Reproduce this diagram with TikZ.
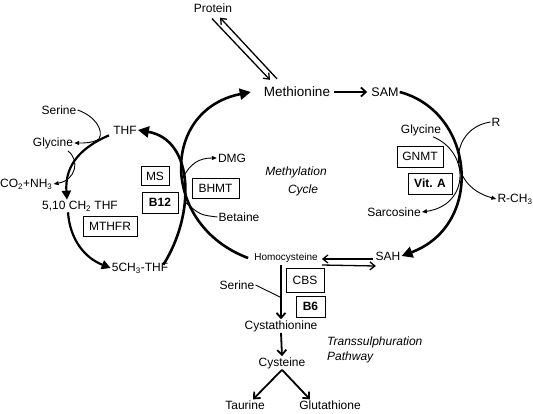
\documentclass[tikz,border=0pt]{standalone}
\usepackage{fontspec}
\setmainfont{Liberation Sans}
\usetikzlibrary{arrows.meta}
\begin{document}
\begin{tikzpicture}[x=1pt,y=-1pt,
  lbl/.style={inner sep=1pt,font=\fontsize{12}{14}\selectfont},
  smalllbl/.style={inner sep=1pt,font=\fontsize{10}{12}\selectfont},
  ital/.style={inner sep=1pt,font=\fontsize{12}{14}\selectfont\itshape},
  enz/.style={draw,line width=0.8pt,inner sep=0pt,font=\fontsize{12}{14}\selectfont},
  bigarc/.style={line width=2.6pt,-{Triangle[length=11pt,width=11pt]}},
  midarc/.style={line width=2.2pt,-{Triangle[length=9pt,width=9pt]}},
  openarr/.style={line width=1.8pt,-{Straight Barb[length=5pt,width=9pt,line width=1.8pt]}},
  thinarr/.style={line width=0.9pt,-{Triangle[length=5pt,width=4pt]}},
  thinline/.style={line width=0.9pt},
  dbl/.style={line width=1.3pt,-{Straight Barb[length=5pt,width=8pt,line width=1.3pt]}}
]
\useasboundingbox (0,0) rectangle (533,413);

% nodes
\node[lbl] (prot) at (213,8) {Protein};
\node[lbl,font=\fontsize{13.5}{15}\selectfont] (met) at (297,92) {Methionine};
\node[lbl,font=\fontsize{12.5}{14}\selectfont] (sam) at (385,92) {SAM};
\node[lbl] (sah) at (388,256) {SAH};
\node[smalllbl] (hcy) at (286,258) {Homocysteine};
\node[lbl] (cysta) at (281,326) {Cystathionine};
\node[lbl] (cys) at (282,363) {Cysteine};
\node[lbl] (tau) at (245,405) {Taurine};
\node[lbl] (glu) at (330,405) {Glutathione};
\node[lbl] (ser2) at (237,285) {Serine};
\node[ital,anchor=west] (trans) at (326,342) {Transsulphuration};
\node[ital,anchor=west] (path) at (326,357) {Pathway};
\node[ital] (methy) at (296,172) {Methylation};
\node[ital] (cycle) at (303,190) {Cycle};

\node[lbl] (thf) at (125,130) {THF};
\node[lbl] (ser1) at (59,110) {Serine};
\node[lbl] (gly1) at (53,143) {Glycine};
\node[lbl,anchor=west] (co2) at (-1,184) {CO\textsubscript{2}+NH\textsubscript{3}};
\node[lbl] (ch2) at (80,206) {5,10 CH\textsubscript{2} THF};
\node[lbl] (ch3) at (140,268) {5CH\textsubscript{3}-THF};
\node[lbl] (dmg) at (232,158) {DMG};
\node[lbl] (bet) at (239,217) {Betaine};

\node[lbl] (gly2) at (421,130) {Glycine};
\node[lbl] (r) at (496,122) {R};
\node[lbl] (sar) at (394,212) {Sarcosine};
\node[lbl] (rch3) at (515,199) {R-CH\textsubscript{3}};

% enzyme boxes
\node[enz,minimum width=28pt,minimum height=19pt] (ms) at (155,176) {MS};
\node[enz,minimum width=36pt,minimum height=21pt] (b12) at (160,202.5) {\bfseries B12};
\node[enz,minimum width=54pt,minimum height=20pt] (mthfr) at (110,226) {MTHFR};
\node[enz,minimum width=47pt,minimum height=20pt] (bhmt) at (215.5,188) {BHMT};
\node[enz,minimum width=46pt,minimum height=21pt] (gnmt) at (420,156.5) {GNMT};
\node[enz,minimum width=44pt,minimum height=21pt] (vita) at (430,183.5) {\bfseries Vit. A};
\node[enz,minimum width=38pt,minimum height=24pt] (cbs) at (305,280) {CBS};
\node[enz,minimum width=29pt,minimum height=21pt] (b6) at (310.5,306.5) {\bfseries B6};

% crossing points
\coordinate (xl) at (183,178);
\coordinate (xl2) at (184,201);
\coordinate (thfx) at (99,139);
\coordinate (glyx) at (68,151);
\coordinate (serx) at (282,298);

% Protein <-> Methionine
\draw[dbl] ([shift={(-1pt,-5pt)}]prot.south) -- ([shift={(-27pt,6pt)}]met.north);
\draw[dbl] ([shift={(-20pt,7pt)}]met.north) -- ([shift={(7pt,-4pt)}]prot.south);

% Methionine -> SAM
\draw[openarr,shorten <=3pt,shorten >=3pt] (met.east) -- (sam.west);

% big right arc SAM -> SAH
\draw[bigarc] (sam.east) .. controls (475,112) and (485,225) .. (sah.east);

% left big arc Homocysteine -> Methionine
\draw[bigarc] ([xshift=-5pt]hcy.west) .. controls (160,225) and (160,110) .. ([xshift=-12pt]met.west);

% MS arc 5CH3-THF -> THF
\draw[bigarc] ([xshift=-6pt,yshift=-3pt]ch3.north east) .. controls (195,215) and (195,140) .. (thf.east);

% THF -> 5,10 CH2 THF
\draw[midarc] ([xshift=-16pt]thf.south) .. controls (75,150) and (65,170) .. ([xshift=-13pt]ch2.north);
% 5,10 CH2 THF -> 5CH3-THF
\draw[midarc] ([xshift=-12pt]ch2.south) .. controls (70,240) and (85,258) .. (ch3.west);

% Serine -> Glycine side branch
\draw[thinline] (ser1.east) .. controls (95,116) and (104,130) .. (thfx);
\draw[thinarr] (thfx) .. controls (92,143) and (86,143) .. (gly1.east);
% Glycine -> CO2+NH3
\draw[thinarr] (glyx) .. controls (80,160) and (76,180) .. (co2.east);

% DMG / Betaine
\draw[thinarr] (xl) .. controls (190,163) and (200,158) .. (dmg.west);
\draw[thinline] (bet.west) .. controls (200,215) .. (xl2);

% Glycine -> Sarcosine, R -> R-CH3
\draw[thinarr] ([xshift=12pt]gly2.south) .. controls (470,152) and (470,205) .. (sar.east);
\draw[thinarr] (r.west) .. controls (450,128) and (445,185) .. (rch3.west);

% Homocysteine <-> SAH
\draw[dbl] ([shift={(54pt,-1pt)}]hcy.east) -- ([shift={(3pt,-1pt)}]hcy.east);
\draw[dbl] ([shift={(3pt,-7pt)}]hcy.east) -- ([shift={(57pt,-8pt)}]hcy.east);

% transsulphuration
\draw[openarr] ([yshift=-1pt]hcy.south -| cysta.north) -- (cysta.north);
\draw[thinline] (ser2.east) -- (serx);
\draw[openarr] (cysta.south) -- (cys.north);
\draw[openarr] (cys.south) -- ([xshift=8pt]tau.north);
\draw[openarr] (cys.south) -- ([xshift=-20pt]glu.north);
\end{tikzpicture}
\end{document}
